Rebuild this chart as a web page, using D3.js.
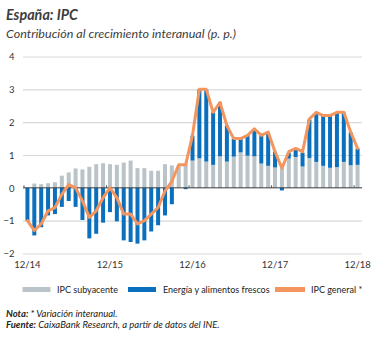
<!DOCTYPE html>
<html>
<head>
<meta charset="utf-8">
<script src="https://cdn.jsdelivr.net/npm/d3@7"></script>
<style>
  html, body { margin: 0; padding: 0; background: #ffffff; }
  svg { display: block; }
  text { font-family: Lato, "Open Sans", sans-serif; fill: #333333; }
</style>
</head>
<body>
<svg id="chart" width="379" height="338"></svg>
<script>
// Months from December 2014 to December 2018
const months = [
  "12/14",
  "1/15","2/15","3/15","4/15","5/15","6/15","7/15","8/15","9/15","10/15","11/15","12/15",
  "1/16","2/16","3/16","4/16","5/16","6/16","7/16","8/16","9/16","10/16","11/16","12/16",
  "1/17","2/17","3/17","4/17","5/17","6/17","7/17","8/17","9/17","10/17","11/17","12/17",
  "1/18","2/18","3/18","4/18","5/18","6/18","7/18","8/18","9/18","10/18","11/18","12/18"
];

// Contribution of core inflation (p. p.)
const subyacente = [
  0.00,
  0.13, 0.11, 0.14, 0.17, 0.37, 0.47, 0.59, 0.56, 0.64, 0.72, 0.75, 0.72,
  0.70, 0.77, 0.83, 0.60, 0.60, 0.52, 0.52, 0.72, 0.68, 0.68, 0.74, 0.83,
  0.90, 0.80, 0.70, 0.96, 0.80, 0.95, 1.08, 0.98, 0.96, 0.74, 0.67, 0.62,
  0.60, 0.89, 0.94, 0.65, 0.91, 0.79, 0.67, 0.61, 0.63, 0.79, 0.69, 0.70
];

// Contribution of energy and fresh food (p. p.)
const energia = [
  -1.00,
  -1.45, -1.20, -0.84, -0.80, -0.58, -0.40, -0.58, -0.98, -1.54, -1.40, -1.06, -0.74,
  -1.02, -1.60, -1.65, -1.70, -1.60, -1.33, -1.14, -0.84, -0.50, 0.00, -0.04, 0.76,
  2.10, 2.20, 1.60, 1.64, 1.10, 0.55, 0.42, 0.62, 0.80, 0.86, 1.00, 0.48,
  -0.08, 0.18, 0.26, 0.42, 1.17, 1.50, 1.55, 1.58, 1.65, 1.50, 1.00, 0.50
];

// Headline CPI, year-on-year change (%)
const ipcGeneral = [
  -1.0,
  -1.3, -1.1, -0.7, -0.6, -0.2, 0.1, 0.0, -0.4, -0.9, -0.7, -0.3, 0.0,
  -0.3, -0.8, -0.8, -1.1, -1.0, -0.8, -0.6, -0.1, 0.2, 0.7, 0.7, 1.6,
  3.0, 3.0, 2.3, 2.6, 1.9, 1.5, 1.5, 1.6, 1.8, 1.6, 1.7, 1.1,
  0.6, 1.1, 1.2, 1.1, 2.1, 2.3, 2.2, 2.2, 2.3, 2.3, 1.7, 1.2
];

const yTicks = [-2, -1, 0, 1, 2, 3, 4];
const xTickLabels = ["12/14", "12/15", "12/16", "12/17", "12/18"];
const legendLabels = ["IPC subyacente", "Energía y alimentos frescos", "IPC general *"];

const colors = { core: "#b9c3c8", energy: "#0a6fbd", line: "#f3955f", grid: "#d9d9d9", zero: "#3a3a3a" };

const svg = d3.select("#chart");

const plotLeft = 23, plotRight = 362;
const x = d3.scaleBand().domain(months).range([24, 361]).paddingInner(0.42).paddingOuter(0.21);
const y = d3.scaleLinear().domain([-2, 4]).range([253.5, 56.5]);
const bw = x.bandwidth();
const step = x.step();

// Title and subtitle
svg.append("text").attr("x", 6).attr("y", 19.5)
  .style("font-size", "14.5px").style("font-weight", "bold").style("font-style", "italic")
  .style("fill", "#3d3d3d")
  .attr("textLength", 72).attr("lengthAdjust", "spacingAndGlyphs")
  .text("España: IPC");
svg.append("text").attr("x", 6).attr("y", 37.5)
  .style("font-size", "12px").style("font-style", "italic").style("fill", "#3d3d3d")
  .attr("textLength", 230).attr("lengthAdjust", "spacingAndGlyphs")
  .text("Contribución al crecimiento interanual (p. p.)");

// Horizontal grid with y labels
const yAxis = d3.axisLeft(y).tickValues(yTicks).tickFormat(d3.format("d"))
  .tickSize(-(plotRight - plotLeft)).tickPadding(8.5);
const gy = svg.append("g").attr("transform", `translate(${plotLeft},0)`).call(yAxis);
gy.select(".domain").remove();
gy.selectAll(".tick line").attr("stroke", d => d === 0 ? "none" : colors.grid).attr("stroke-width", 1.1);
gy.selectAll(".tick text").style("font-size", "9.5px").style("fill", "#333")
  .style("font-family", "Lato, 'Open Sans', sans-serif").attr("dy", "0.34em");

// Stacked bars: core contribution
const bars = svg.append("g");
bars.selectAll("rect.core").data(months).join("rect").attr("class", "core")
  .attr("x", d => x(d)).attr("width", bw)
  .attr("y", (d, i) => y(Math.max(0, subyacente[i])))
  .attr("height", (d, i) => Math.abs(y(subyacente[i]) - y(0)))
  .attr("fill", colors.core);

// Energy and fresh food: stacked on top when positive, below zero when negative
bars.selectAll("rect.energy").data(months).join("rect").attr("class", "energy")
  .attr("x", d => x(d)).attr("width", bw)
  .attr("y", (d, i) => energia[i] >= 0 ? y(subyacente[i] + energia[i]) : y(0))
  .attr("height", (d, i) => energia[i] >= 0
    ? y(subyacente[i]) - y(subyacente[i] + energia[i])
    : y(energia[i]) - y(0))
  .attr("fill", colors.energy);

// Zero line with year markers
svg.append("line").attr("x1", plotLeft).attr("x2", plotRight)
  .attr("y1", y(0)).attr("y2", y(0)).attr("stroke", colors.zero).attr("stroke-width", 1);
svg.append("g").selectAll("line").data(xTickLabels).join("line")
  .attr("x1", d => x(d) - step * 0.21).attr("x2", d => x(d) - step * 0.21)
  .attr("y1", y(0) - 2.5).attr("y2", y(0))
  .attr("stroke", "#555").attr("stroke-width", 1);

// Headline CPI line
const line = d3.line().x(d => x(d.m) + bw / 2).y(d => y(d.v)).curve(d3.curveLinear);
svg.append("path")
  .datum(months.map((m, i) => ({ m, v: ipcGeneral[i] })))
  .attr("d", line).attr("fill", "none")
  .attr("stroke", colors.line).attr("stroke-width", 3)
  .attr("stroke-linejoin", "round").attr("stroke-linecap", "round");

// X axis labels
const xAxis = d3.axisBottom(x).tickValues(xTickLabels).tickSize(0).tickPadding(0);
const gx = svg.append("g").call(xAxis);
gx.select(".domain").remove();
gx.selectAll(".tick text").attr("y", 268).attr("dy", 0)
  .style("font-size", "9.5px").style("fill", "#333")
  .style("font-family", "Lato, 'Open Sans', sans-serif");

// Legend
const legend = [
  { label: legendLabels[0], color: colors.core, sx: 22.5, sw: 28, tx: 57 },
  { label: legendLabels[1], color: colors.energy, sx: 128, sw: 28, tx: 163 },
  { label: legendLabels[2], color: colors.line, sx: 275, sw: 30, tx: 311 }
];
const lg = svg.append("g");
lg.selectAll("rect").data(legend).join("rect")
  .attr("x", d => d.sx).attr("y", 287).attr("width", d => d.sw).attr("height", 5)
  .attr("fill", d => d.color);
lg.selectAll("text").data(legend).join("text")
  .attr("x", d => d.tx).attr("y", 292.5)
  .style("font-size", "9px").style("fill", "#222")
  .text(d => d.label);

// Notes
const note1 = svg.append("text").attr("x", 6).attr("y", 317)
  .style("font-size", "9.5px").style("font-style", "italic").style("fill", "#222");
note1.append("tspan").style("font-weight", "bold").text("Nota:");
note1.append("tspan").text(" * Variación interanual.");
const note2 = svg.append("text").attr("x", 6).attr("y", 327.5)
  .style("font-size", "9.5px").style("font-style", "italic").style("fill", "#222");
note2.append("tspan").style("font-weight", "bold").text("Fuente:");
note2.append("tspan").text(" CaixaBank Research, a partir de datos del INE.");
</script>
</body>
</html>
